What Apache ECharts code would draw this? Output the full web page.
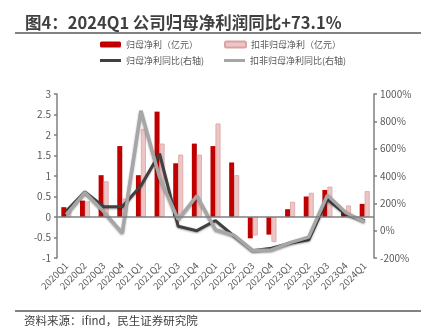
<!DOCTYPE html>
<html>
<head>
<meta charset="utf-8">
<script src="https://cdn.jsdelivr.net/npm/echarts@6/dist/echarts.min.js"></script>
<style>
  html, body { margin: 0; padding: 0; background: #fff; }
  #chart { width: 434px; height: 336px; }
</style>
</head>
<body>
<div id="chart"></div>
<script>
// Quarterly categories
const quarters = ['2020Q1', '2020Q2', '2020Q3', '2020Q4', '2021Q1', '2021Q2', '2021Q3', '2021Q4',
  '2022Q1', '2022Q2', '2022Q3', '2022Q4', '2023Q1', '2023Q2', '2023Q3', '2023Q4', '2024Q1'];

// Net profit attributable to parent (100m CNY)
const netProfit = [0.24, 0.40, 1.02, 1.73, 1.02, 2.57, 1.31, 1.79,
  1.73, 1.33, -0.52, -0.43, 0.19, 0.50, 0.66, 0.11, 0.32];

// Net profit excluding non-recurring items (100m CNY)
const netProfitDeducted = [0.19, 0.38, 0.87, 0.45, 2.15, 1.79, 1.52, 1.52,
  2.28, 1.02, -0.45, -0.61, 0.37, 0.59, 0.74, 0.28, 0.63];

// YoY growth of net profit (%), right axis
const netProfitYoY = [143, 284, 175, 175, 328, 563, 32, 0,
  74, -40, -146, -128, -91, -67, 230, 119, 73.1];

// YoY growth of deducted net profit (%), right axis
const deductedYoY = [118, 280, 140, -17, 877, 390, 81, 254,
  7, -35, -146, -141, -87, -47, 259, 131, 65];

const leftTicks = { min: -1, max: 3, interval: 0.5 };
const rightTicks = { min: -200, max: 1000, interval: 200 };

const FONT = '"Noto Sans CJK SC", "Noto Sans", sans-serif';
const AXIS_GREY = '#7f7f7f';
const LABEL_GREY = '#595959';

const chart = echarts.init(document.getElementById('chart'), null, { renderer: 'canvas' });

const legendBase = {
  padding: 0,
  itemWidth: 21,
  itemGap: 0,
  textStyle: { fontFamily: FONT, fontSize: 9, color: LABEL_GREY },
  selectedMode: false
};

const lineShadow = {
  shadowColor: 'rgba(0,0,0,0.35)',
  shadowBlur: 2,
  shadowOffsetY: 1
};

chart.setOption({
  animation: false,
  backgroundColor: '#ffffff',
  textStyle: { fontFamily: FONT },
  graphic: [
    {
      type: 'text', left: 25, top: 14,
      style: {
        text: '图4：2024Q1 公司归母净利润同比+73.1%',
        font: 'bold 16.5px ' + FONT,
        fill: '#404040'
      }
    },
    {
      type: 'line',
      shape: { x1: 15, y1: 33, x2: 421, y2: 33 },
      style: { stroke: '#595959', lineWidth: 1.5 }
    },
    {
      type: 'line',
      shape: { x1: 15, y1: 311, x2: 421, y2: 311 },
      style: { stroke: '#595959', lineWidth: 1.5 }
    },
    {
      type: 'text', left: 24, top: 315,
      style: {
        text: '资料来源：ifind，民生证券研究院',
        font: '11.5px ' + FONT,
        fill: '#404040'
      }
    }
  ],
  legend: [
    Object.assign({}, legendBase, { data: ['归母净利（亿元）'], left: 100, top: 40, itemHeight: 6 }),
    Object.assign({}, legendBase, { data: ['扣非归母净利（亿元）'], left: 224, top: 40, itemHeight: 6 }),
    Object.assign({}, legendBase, { data: [{ name: '归母净利同比(右轴)', icon: 'rect' }], left: 100, top: 56, itemHeight: 3 }),
    Object.assign({}, legendBase, { data: [{ name: '扣非归母净利同比(右轴)', icon: 'rect' }], left: 224, top: 56, itemHeight: 3 })
  ],
  grid: { left: 57, right: 60, top: 94, bottom: 78, containLabel: false },
  xAxis: {
    type: 'category',
    data: quarters,
    axisLine: { show: false, onZero: false },
    axisTick: { show: false },
    axisLabel: {
      rotate: 45,
      interval: 0,
      margin: 6,
      fontSize: 9.5,
      color: LABEL_GREY,
      fontFamily: FONT
    }
  },
  yAxis: [
    {
      type: 'value',
      min: leftTicks.min, max: leftTicks.max, interval: leftTicks.interval,
      splitLine: { show: false },
      axisLine: { show: true, lineStyle: { color: AXIS_GREY, width: 1.5 } },
      axisTick: { show: true, length: 3, lineStyle: { color: AXIS_GREY, width: 1.5 } },
      axisLabel: { fontSize: 10, color: LABEL_GREY, margin: 6, fontFamily: FONT }
    },
    {
      type: 'value',
      position: 'right',
      alignTicks: false,
      min: rightTicks.min, max: rightTicks.max, interval: rightTicks.interval,
      splitLine: { show: false },
      axisLine: { show: true, lineStyle: { color: AXIS_GREY, width: 1.5 } },
      axisTick: { show: true, length: 3, lineStyle: { color: AXIS_GREY, width: 1.5 } },
      axisLabel: {
        fontSize: 10, color: LABEL_GREY, margin: 6, fontFamily: FONT,
        formatter: function (v) { return v + '%'; }
      }
    }
  ],
  series: [
    {
      name: '归母净利（亿元）',
      type: 'bar',
      yAxisIndex: 0,
      data: netProfit,
      barWidth: 5,
      barGap: '0%',
      itemStyle: { color: '#c00000' },
      markLine: {
        silent: true,
        symbol: 'none',
        label: { show: false },
        lineStyle: { color: AXIS_GREY, width: 1.5, type: 'solid' },
        data: [{ yAxis: 0 }]
      }
    },
    {
      name: '扣非归母净利（亿元）',
      type: 'bar',
      yAxisIndex: 0,
      data: netProfitDeducted,
      barWidth: 5,
      barGap: '0%',
      itemStyle: { color: '#efc4c4', borderColor: '#d9a3a3', borderWidth: 0.8 }
    },
    {
      name: '归母净利同比(右轴)',
      type: 'line',
      yAxisIndex: 1,
      data: netProfitYoY,
      symbol: 'none',
      itemStyle: { color: '#404040' },
      lineStyle: Object.assign({ color: '#404040', width: 3 }, lineShadow),
      z: 3
    },
    {
      name: '扣非归母净利同比(右轴)',
      type: 'line',
      yAxisIndex: 1,
      data: deductedYoY,
      symbol: 'none',
      itemStyle: { color: '#a6a6a6' },
      lineStyle: Object.assign({ color: '#a6a6a6', width: 3.5 }, lineShadow),
      z: 4
    }
  ]
});
</script>
</body>
</html>
